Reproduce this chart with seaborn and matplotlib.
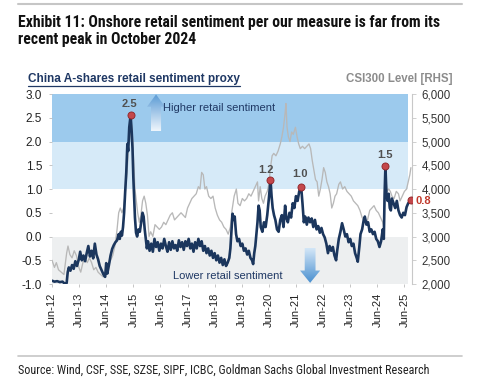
import matplotlib.pyplot as plt
import numpy as np
import seaborn as sns
from matplotlib.colors import LinearSegmentedColormap
from matplotlib.lines import Line2D
from matplotlib.patches import Polygon, Rectangle

# retail sentiment proxy (left axis), decimal year -> value
sent_t = [
    2012.46, 2012.55, 2012.65, 2012.75, 2012.85, 2012.92, 2013.00, 2013.04, 2013.08, 2013.14,
    2013.20, 2013.26, 2013.32, 2013.38, 2013.45, 2013.50, 2013.56, 2013.62, 2013.68, 2013.74,
    2013.80, 2013.86, 2013.92, 2013.98, 2014.04, 2014.10, 2014.16, 2014.22, 2014.30, 2014.36,
    2014.42, 2014.46, 2014.50, 2014.56, 2014.62, 2014.68, 2014.74, 2014.80, 2014.86, 2014.92,
    2014.96, 2015.00, 2015.04, 2015.08, 2015.12, 2015.16, 2015.20, 2015.24, 2015.27, 2015.31,
    2015.36, 2015.40, 2015.43, 2015.46, 2015.49, 2015.52, 2015.56, 2015.60, 2015.65, 2015.70,
    2015.75, 2015.80, 2015.84, 2015.88, 2015.92, 2015.96, 2016.00, 2016.06, 2016.12, 2016.18,
    2016.24, 2016.30, 2016.36, 2016.42, 2016.48, 2016.54, 2016.60, 2016.66, 2016.72, 2016.78,
    2016.84, 2016.90, 2016.96, 2017.02, 2017.08, 2017.14, 2017.20, 2017.26, 2017.32, 2017.38,
    2017.44, 2017.50, 2017.56, 2017.62, 2017.68, 2017.74, 2017.80, 2017.86, 2017.92, 2017.98,
    2018.04, 2018.10, 2018.16, 2018.22, 2018.28, 2018.34, 2018.40, 2018.46, 2018.52, 2018.58,
    2018.64, 2018.70, 2018.76, 2018.82, 2018.88, 2018.94, 2019.00, 2019.04, 2019.08, 2019.12,
    2019.16, 2019.20, 2019.25, 2019.30, 2019.36, 2019.42, 2019.48, 2019.54, 2019.60, 2019.66,
    2019.72, 2019.78, 2019.84, 2019.88, 2019.92, 2019.96, 2020.00, 2020.04, 2020.08, 2020.12,
    2020.16, 2020.22, 2020.28, 2020.34, 2020.40, 2020.46, 2020.52, 2020.56, 2020.60, 2020.65,
    2020.70, 2020.76, 2020.82, 2020.88, 2020.94, 2021.00, 2021.06, 2021.10, 2021.16, 2021.22,
    2021.28, 2021.34, 2021.40, 2021.46, 2021.52, 2021.58, 2021.65, 2021.70, 2021.75, 2021.80,
    2021.86, 2021.92, 2021.98, 2022.04, 2022.10, 2022.16, 2022.22, 2022.28, 2022.34, 2022.40,
    2022.46, 2022.52, 2022.58, 2022.64, 2022.70, 2022.76, 2022.82, 2022.88, 2022.94, 2022.98,
    2023.04, 2023.10, 2023.16, 2023.22, 2023.28, 2023.34, 2023.40, 2023.46, 2023.52, 2023.58,
    2023.64, 2023.70, 2023.74, 2023.80, 2023.84, 2023.90, 2023.96, 2024.00, 2024.06, 2024.12,
    2024.18, 2024.24, 2024.30, 2024.36, 2024.42, 2024.48, 2024.54, 2024.60, 2024.66, 2024.70,
    2024.73, 2024.76, 2024.80, 2024.84, 2024.88, 2024.92, 2024.96, 2025.00, 2025.06, 2025.12,
    2025.18, 2025.24, 2025.30, 2025.36, 2025.42, 2025.48, 2025.54, 2025.60, 2025.66, 2025.70,
]
sent_v = [
    -0.93, -0.95, -0.94, -0.96, -0.95, -0.99, -0.98, -0.75, -0.65, -0.72,
    -0.60, -0.68, -0.52, -0.62, -0.48, -0.32, -0.50, -0.40, -0.52, -0.35,
    -0.20, -0.42, -0.30, -0.46, -0.15, -0.38, -0.48, -0.62, -0.72, -0.80,
    -0.85, -0.56, -0.78, -0.60, -0.40, -0.26, -0.18, -0.12, -0.08, 0.05,
    -0.05, 0.10, 0.02, 0.20, 0.50, 0.95, 1.35, 1.95, 1.80, 2.30,
    2.55, 2.20, 1.85, 1.25, 0.80, 0.40, 0.08, 0.00, 0.15, 0.10,
    0.30, 0.50, 0.42, 0.15, -0.05, -0.25, -0.10, -0.30, -0.15, -0.32,
    -0.05, -0.22, -0.12, -0.30, -0.15, -0.25, -0.05, -0.20, -0.32, -0.12,
    -0.28, -0.10, -0.25, -0.18, -0.30, -0.08, -0.22, -0.12, -0.28, -0.10,
    -0.20, -0.05, -0.25, -0.15, -0.32, -0.12, -0.25, -0.05, -0.20, -0.10,
    -0.30, -0.20, -0.35, -0.25, -0.40, -0.30, -0.45, -0.35, -0.50, -0.40,
    -0.55, -0.45, -0.60, -0.48, -0.62, -0.55, -0.45, -0.25, 0.10, 0.48,
    0.35, 0.42, 0.05, -0.10, -0.05, -0.20, -0.15, -0.30, -0.25, -0.38,
    -0.30, -0.45, -0.50, -0.58, -0.35, -0.20, 0.05, 0.30, 0.65, 0.55,
    0.20, 0.10, 0.30, 0.20, 0.45, 0.80, 1.20, 0.85, 0.60, 0.45,
    0.35, 0.15, 0.10, 0.35, 0.45, 0.20, 0.65, 0.40, 0.30, 0.50,
    0.40, 0.70, 0.60, 0.85, 0.75, 0.95, 1.05, 0.70, 0.30, 0.42,
    0.25, 0.40, 0.30, 0.38, 0.20, 0.35, 0.15, 0.22, 0.08, 0.18,
    0.05, -0.02, -0.15, -0.35, -0.20, -0.30, -0.22, -0.40, -0.50, -0.30,
    -0.05, 0.10, 0.28, 0.15, 0.00, 0.05, -0.12, -0.05, -0.20, -0.15,
    -0.35, -0.45, -0.53, -0.20, 0.05, 0.15, 0.35, 0.42, 0.25, 0.30,
    0.10, 0.15, 0.05, 0.10, -0.05, -0.10, -0.22, -0.10, 0.15, -0.05,
    0.90, 1.48, 0.85, 0.75, 0.90, 0.60, 0.55, 0.80, 0.70, 0.60,
    0.75, 0.55, 0.45, 0.40, 0.50, 0.45, 0.62, 0.70, 0.74, 0.77,
]

# CSI300 level (right axis)
csi_t = [
    2012.46, 2012.55, 2012.62, 2012.70, 2012.80, 2012.90, 2013.00, 2013.05, 2013.12, 2013.20,
    2013.28, 2013.36, 2013.45, 2013.52, 2013.60, 2013.68, 2013.76, 2013.84, 2013.92, 2014.00,
    2014.08, 2014.16, 2014.25, 2014.35, 2014.45, 2014.55, 2014.62, 2014.70, 2014.78, 2014.86,
    2014.92, 2014.98, 2015.04, 2015.10, 2015.16, 2015.22, 2015.28, 2015.34, 2015.40, 2015.44,
    2015.48, 2015.52, 2015.56, 2015.62, 2015.68, 2015.74, 2015.80, 2015.86, 2015.92, 2015.98,
    2016.04, 2016.10, 2016.18, 2016.26, 2016.34, 2016.42, 2016.50, 2016.58, 2016.66, 2016.74,
    2016.82, 2016.90, 2016.98, 2017.06, 2017.14, 2017.22, 2017.30, 2017.38, 2017.46, 2017.54,
    2017.62, 2017.70, 2017.78, 2017.86, 2017.92, 2017.98, 2018.04, 2018.10, 2018.16, 2018.24,
    2018.32, 2018.40, 2018.48, 2018.56, 2018.64, 2018.72, 2018.80, 2018.88, 2018.96, 2019.04,
    2019.10, 2019.18, 2019.26, 2019.32, 2019.40, 2019.48, 2019.56, 2019.64, 2019.72, 2019.80,
    2019.88, 2019.96, 2020.04, 2020.08, 2020.14, 2020.20, 2020.26, 2020.32, 2020.40, 2020.46,
    2020.52, 2020.58, 2020.64, 2020.72, 2020.80, 2020.88, 2020.94, 2021.00, 2021.06, 2021.09,
    2021.13, 2021.18, 2021.24, 2021.30, 2021.36, 2021.44, 2021.50, 2021.56, 2021.62, 2021.70,
    2021.78, 2021.86, 2021.94, 2022.00, 2022.06, 2022.12, 2022.18, 2022.24, 2022.30, 2022.36,
    2022.42, 2022.48, 2022.54, 2022.60, 2022.66, 2022.72, 2022.78, 2022.84, 2022.90, 2022.96,
    2023.04, 2023.10, 2023.18, 2023.26, 2023.34, 2023.42, 2023.50, 2023.58, 2023.66, 2023.74,
    2023.82, 2023.90, 2023.96, 2024.04, 2024.10, 2024.18, 2024.26, 2024.34, 2024.42, 2024.50,
    2024.58, 2024.66, 2024.70, 2024.74, 2024.77, 2024.82, 2024.88, 2024.94, 2025.00, 2025.08,
    2025.16, 2025.24, 2025.30, 2025.38, 2025.46, 2025.54, 2025.60, 2025.66, 2025.70,
]
csi_v = [
    2500, 2350, 2450, 2300, 2250, 2200, 2650, 2800, 2620, 2550,
    2700, 2600, 2350, 2250, 2450, 2550, 2450, 2550, 2450, 2300,
    2350, 2250, 2200, 2150, 2200, 2400, 2500, 2600, 2800, 3150,
    3500, 3600, 3500, 3600, 3900, 4300, 4800, 5100, 5350, 5000,
    4500, 4000, 3800, 3500, 3300, 3450, 3750, 3850, 3700, 3450,
    3000, 3100, 3000, 3250, 3200, 3150, 3200, 3300, 3250, 3350,
    3450, 3500, 3350, 3400, 3450, 3500, 3450, 3400, 3600, 3700,
    3800, 3850, 3900, 4050, 4000, 4350, 4300, 4000, 4050, 3850,
    3800, 3850, 3600, 3450, 3350, 3300, 3200, 3150, 3050, 3200,
    3550, 3850, 4000, 3700, 3650, 3800, 3750, 3800, 3900, 3850,
    3950, 4050, 4150, 3750, 4050, 3800, 3700, 3850, 3950, 4100,
    4450, 4700, 4750, 4700, 4800, 4950, 5100, 5300, 5600, 5800,
    5300, 5100, 5000, 5200, 5150, 5300, 5100, 4950, 4850, 4900,
    4850, 4900, 4950, 4850, 4600, 4400, 4200, 4150, 3850, 4000,
    4200, 4450, 4350, 4150, 4050, 3900, 3600, 3700, 3850, 3900,
    4100, 4150, 4000, 4050, 3950, 3900, 3850, 3750, 3700, 3650,
    3550, 3400, 3350, 3250, 3350, 3550, 3600, 3650, 3550, 3500,
    3400, 3300, 3200, 4000, 4250, 3950, 4000, 3950, 3850, 3800,
    3950, 3900, 3750, 3850, 3950, 4000, 4150, 4300, 4450,
]

# highlighted readings
peak_t = [2015.36, 2020.52, 2021.65, 2024.76, 2025.70]
peak_v = [2.55, 1.20, 1.05, 1.48, 0.77]
peak_lbl = ["2.5", "1.2", "1.0", "1.5", "0.8"]

tick_years = list(range(2012, 2026))
tick_labels = [f"Jun-{y % 100:02d}" for y in tick_years]
left_ticks = [-1.0, -0.5, 0.0, 0.5, 1.0, 1.5, 2.0, 2.5, 3.0]
right_ticks = [2000, 2500, 3000, 3500, 4000, 4500, 5000, 5500, 6000]

NAVY = "#1b365d"
GREY_LINE = "#b8b8b8"
DOT = "#c4474b"

sns.set_style("white")
plt.rcParams["font.family"] = ["Liberation Sans", "DejaVu Sans"]
plt.rcParams["axes.unicode_minus"] = False
NARROW = ["Roboto Condensed", "Archivo Narrow", "PT Sans Narrow", "Liberation Sans"]

fig = plt.figure(figsize=(5, 3.86), dpi=100)
ax = fig.add_axes([0.104, 0.2642, 0.72, 0.4922])
ax2 = ax.twinx()
ax.set_zorder(ax2.get_zorder() + 1)
ax.patch.set_visible(False)
ax.set_ylim(-1, 3)

# shaded sentiment regimes, drawn behind both lines
for lo, hi, col in [(-1, 0, "#edeff0"), (1, 2, "#d6eaf8"), (2, 3, "#9ccaed")]:
    ax2.add_patch(Rectangle((0, lo), 0.988, hi - lo, transform=ax.get_yaxis_transform(),
                            facecolor=col, edgecolor="none", zorder=0))

sns.lineplot(x=csi_t, y=csi_v, ax=ax2, color=GREY_LINE, lw=0.95, zorder=2)
sns.lineplot(x=sent_t, y=sent_v, ax=ax, color=NAVY, lw=1.9, zorder=3)
ax.scatter(peak_t, peak_v, s=26, color=DOT, edgecolor="#8e2227", linewidth=0.6, zorder=5)

offsets = [(-1, 8.5), (-3, 6.5), (-1, 9), (0, 8), (9, -0.5)]
for i, (t, v, lbl, off) in enumerate(zip(peak_t, peak_v, peak_lbl, offsets)):
    last = i == len(peak_t) - 1
    ax.annotate(lbl, (t, v), xytext=off, textcoords="offset points",
                ha="center", va="center", fontsize=8, fontweight="bold",
                color="#c0392b" if last else "#505050", zorder=6, annotation_clip=False)


def gradient_arrow(axis, xc, y_tail, y_tip, shaft_w, head_w, head_h, c_tail, c_tip):
    d = 1 if y_tip > y_tail else -1
    neck = y_tip - d * head_h
    verts = [(xc - shaft_w / 2, y_tail), (xc - shaft_w / 2, neck), (xc - head_w / 2, neck),
             (xc, y_tip), (xc + head_w / 2, neck), (xc + shaft_w / 2, neck),
             (xc + shaft_w / 2, y_tail)]
    poly = Polygon(verts, closed=True, transform=axis.transAxes,
                   facecolor="none", edgecolor="none")
    axis.add_patch(poly)
    lo, hi = min(y_tail, y_tip), max(y_tail, y_tip)
    cmap = LinearSegmentedColormap.from_list("g", [c_tail, c_tip] if d > 0 else [c_tip, c_tail])
    im = axis.imshow(np.linspace(0, 1, 64).reshape(-1, 1), extent=[xc - head_w / 2, xc + head_w / 2, lo, hi],
                     transform=axis.transAxes, cmap=cmap, aspect="auto", origin="lower", zorder=4)
    im.set_clip_path(poly)


gradient_arrow(ax, 0.289, 0.805, 0.998, 0.028, 0.05, 0.065, "#eef5fc", "#5b9bd5")
gradient_arrow(ax, 0.717, 0.19, 0.006, 0.03, 0.056, 0.065, "#d3e6f7", "#4a90d0")

ax.text(0.308, 0.926, "Higher retail sentiment", transform=ax.transAxes,
        ha="left", va="center", fontsize=8, color="#1f3864", zorder=6)
ax.text(0.336, 0.042, "Lower retail sentiment", transform=ax.transAxes,
        ha="left", va="center", fontsize=8, color="#1f3864", zorder=6)

ax.set_xlim(2012.46, 2025.74)
ax.set_ylim(-1, 3)
ax2.set_ylim(2000, 6000)
ax.set_xticks([y + 0.46 for y in tick_years])
ax.set_xticklabels(tick_labels, rotation=90)
ax.set_yticks(left_ticks)
ax.set_yticklabels([f"{v:.1f}" for v in left_ticks])
ax2.set_yticks(right_ticks)
ax2.set_yticklabels([f"{v:,}" for v in right_ticks])
for a in (ax, ax2):
    a.set_xlabel("")
    a.set_ylabel("")
    for s in a.spines.values():
        s.set_visible(False)
ax2.spines["right"].set_visible(True)
ax2.spines["right"].set_color("#c8c8c8")
ax2.spines["right"].set_linewidth(0.8)

ax.tick_params(axis="y", left=True, length=2, width=0.6, color="#bbbbbb", pad=5,
               labelsize=8.5, labelcolor="#222222")
ax.tick_params(axis="x", bottom=True, length=2, width=0.6, color="#bbbbbb", pad=4,
               labelsize=8, labelcolor="#222222")
ax2.tick_params(axis="y", right=True, length=3, width=0.6, color="#c8c8c8", pad=4,
                labelsize=8.3, labelcolor="#333333")

# header / footer
fig.add_artist(Line2D([0.036, 0.924], [1 - 4 / 386] * 2, color="#c6c6c6", lw=1.5))
fig.text(0.036, 1 - 27.5 / 386, "Exhibit 11: Onshore retail sentiment per our measure is far from its",
         family=NARROW, fontsize=11.3, fontweight="bold", color="#111111", va="baseline")
fig.text(0.036, 1 - 44 / 386, "recent peak in October 2024",
         family=NARROW, fontsize=11.3, fontweight="bold", color="#111111", va="baseline")

lt = fig.text(0.056, 1 - 82 / 386, "China A-shares retail sentiment proxy", fontsize=8.5,
              fontweight="bold", color="#1f3864", va="baseline")
fig.text(0.906, 1 - 82 / 386, "CSI300 Level [RHS]", fontsize=8.3, fontweight="bold",
         color="#8c8c8c", va="baseline", ha="right")
fig.canvas.draw()
bb = lt.get_window_extent().transformed(fig.transFigure.inverted())
fig.add_artist(Line2D([bb.x0, bb.x1], [bb.y0 - 0.002] * 2, color="#1f3864", lw=0.9))

fig.add_artist(Line2D([0.036, 0.924], [1 - 355.5 / 386] * 2, color="#c6c6c6", lw=1.2))
fig.text(0.036, 1 - 374 / 386,
         "Source: Wind, CSF, SSE, SZSE, SIPF, ICBC, Goldman Sachs Global Investment Research",
         family=NARROW, fontsize=8.7, color="#222222", va="baseline")

fig.savefig("out.png", dpi=100)
